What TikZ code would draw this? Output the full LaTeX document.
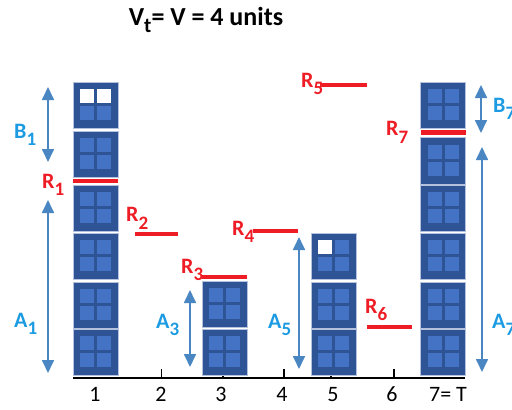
\documentclass[tikz,border=0pt]{standalone}
\usepackage{fontspec}
\setmainfont{Carlito}
\usetikzlibrary{arrows.meta}
\definecolor{boxdark}{HTML}{2F5496}
\definecolor{boxsq}{HTML}{4472C4}
\definecolor{boxedge}{HTML}{B4C2DE}
\definecolor{rbar}{HTML}{EE1C25}
\definecolor{arrowc}{HTML}{4A86C2}
\definecolor{lbl}{HTML}{1C9BE2}
\newcommand\ubox[4]{%
 \path[fill=boxdark,draw=boxedge,line width=0.8pt] (#1,#2) rectangle ++(45,46.5);
 \path[fill=#3] (#1+7,#2+7) rectangle ++(14,14);
 \path[fill=#4] (#1+24,#2+7) rectangle ++(14,14);
 \path[fill=boxsq] (#1+7,#2+24) rectangle ++(14,14);
 \path[fill=boxsq] (#1+24,#2+24) rectangle ++(14,14);
}
\newcommand\sbs[1]{\raisebox{-7.5pt}{\fontsize{19}{19}\selectfont #1}}
\tikzset{
 rlab/.style={text=rbar,font=\fontsize{22}{22}\selectfont\bfseries,anchor=base west,inner sep=0pt},
 blab/.style={text=lbl,font=\fontsize{22}{22}\selectfont\bfseries,anchor=base west,inner sep=0pt},
 axlab/.style={font=\fontsize{22}{22}\selectfont,anchor=base,inner sep=0pt},
 rline/.style={draw=rbar,line width=4.5pt},
 dbl/.style={draw=arrowc,line width=1.7pt,{Triangle[width=12pt,length=13pt]}-{Triangle[width=12pt,length=13pt]}},
}
\begin{document}
\begin{tikzpicture}[x=1pt,y=-1pt]
\useasboundingbox (0,0) rectangle (512,410);
% title
\node[font=\fontsize{26}{26}\selectfont\bfseries,anchor=base,inner sep=0pt] (title) at (206,25.5) {V\raisebox{-7pt}{\fontsize{21}{21}\selectfont t}= V = 4 units};
% axis
\coordinate (ax0) at (73,378);
\coordinate (ax1) at (465,378);
\draw[line width=1.3pt] (ax0) -- (ax1);
\foreach \x in {161.5,284,394,223,331}{\draw[line width=1.3pt] (\x,378) -- (\x,369);}
% boxes
\ubox{73}{82}{white}{white}
\foreach \y in {131,185,233,282,329}{\ubox{73}{\y}{boxsq}{boxsq}}
\foreach \y in {281,329}{\ubox{202}{\y}{boxsq}{boxsq}}
\ubox{311}{233}{white}{boxsq}
\foreach \y in {282,329}{\ubox{311}{\y}{boxsq}{boxsq}}
\foreach \y in {82,137.5,185,233,282,329}{\ubox{420.5}{\y}{boxsq}{boxsq}}
% labels
\node[rlab] (R1) at (42,188) {R\sbs{1}};
\node[rlab] (R2) at (126,221.5) {R\sbs{2}};
\node[rlab] (R3) at (181,273) {R\sbs{3}};
\node[rlab] (R4) at (232,235) {R\sbs{4}};
\node[rlab] (R5) at (301,87) {R\sbs{5}};
\node[rlab] (R6) at (365,313) {R\sbs{6}};
\node[rlab] (R7) at (386,135.5) {R\sbs{7}};
\node[blab] (B1) at (14,138) {B\sbs{1}};
\node[blab] (A1) at (14,327) {A\sbs{1}};
\node[blab] (A3) at (156,328) {A\sbs{3}};
\node[blab] (A5) at (268,328) {A\sbs{5}};
\node[blab] (A7) at (492,328) {A\sbs{7}};
\node[blab] (B7) at (493,112) {B\sbs{7}};
% red bars
\coordinate (r1a) at (73,181); \coordinate (r1b) at (118,181);
\coordinate (r2a) at (135,234); \coordinate (r2b) at (178,234);
\coordinate (r3a) at (202,277); \coordinate (r3b) at (247,277);
\coordinate (r4a) at (253,231); \coordinate (r4b) at (298,231);
\coordinate (r5a) at (320,85); \coordinate (r5b) at (367,85);
\coordinate (r6a) at (367,327); \coordinate (r6b) at (412,327);
\coordinate (r7a) at (420.5,132.5); \coordinate (r7b) at (465.5,132.5);
\foreach \i in {1,...,7}{\draw[rline] (r\i a) -- (r\i b);}
% arrows
\coordinate (b1t) at (48,87); \coordinate (b1b) at (48,162);
\coordinate (a1t) at (48,200); \coordinate (a1b) at (48,373);
\coordinate (a3t) at (190,290); \coordinate (a3b) at (190,367);
\coordinate (a5t) at (299,237); \coordinate (a5b) at (299,369);
\coordinate (a7t) at (482,147); \coordinate (a7b) at (482,372);
\coordinate (b7t) at (481,85); \coordinate (b7b) at (481,133);
\draw[dbl] (b1t) -- (b1b);
\draw[dbl] (a1t) -- (a1b);
\draw[dbl] (a3t) -- (a3b);
\draw[dbl] (a5t) -- (a5b);
\draw[dbl] (a7t) -- (a7b);
\draw[dbl] (b7t) -- (b7b);
% axis numbers
\node[axlab] (n1) at (95,401.5) {1};
\node[axlab] (n2) at (161,401.5) {2};
\node[axlab] (n3) at (221,401.5) {3};
\node[axlab] (n4) at (282,401.5) {4};
\node[axlab] (n5) at (333,401.5) {5};
\node[axlab] (n6) at (392,401.5) {6};
\node[axlab] (n7) at (448,401.5) {7= T};
\end{tikzpicture}
\end{document}
